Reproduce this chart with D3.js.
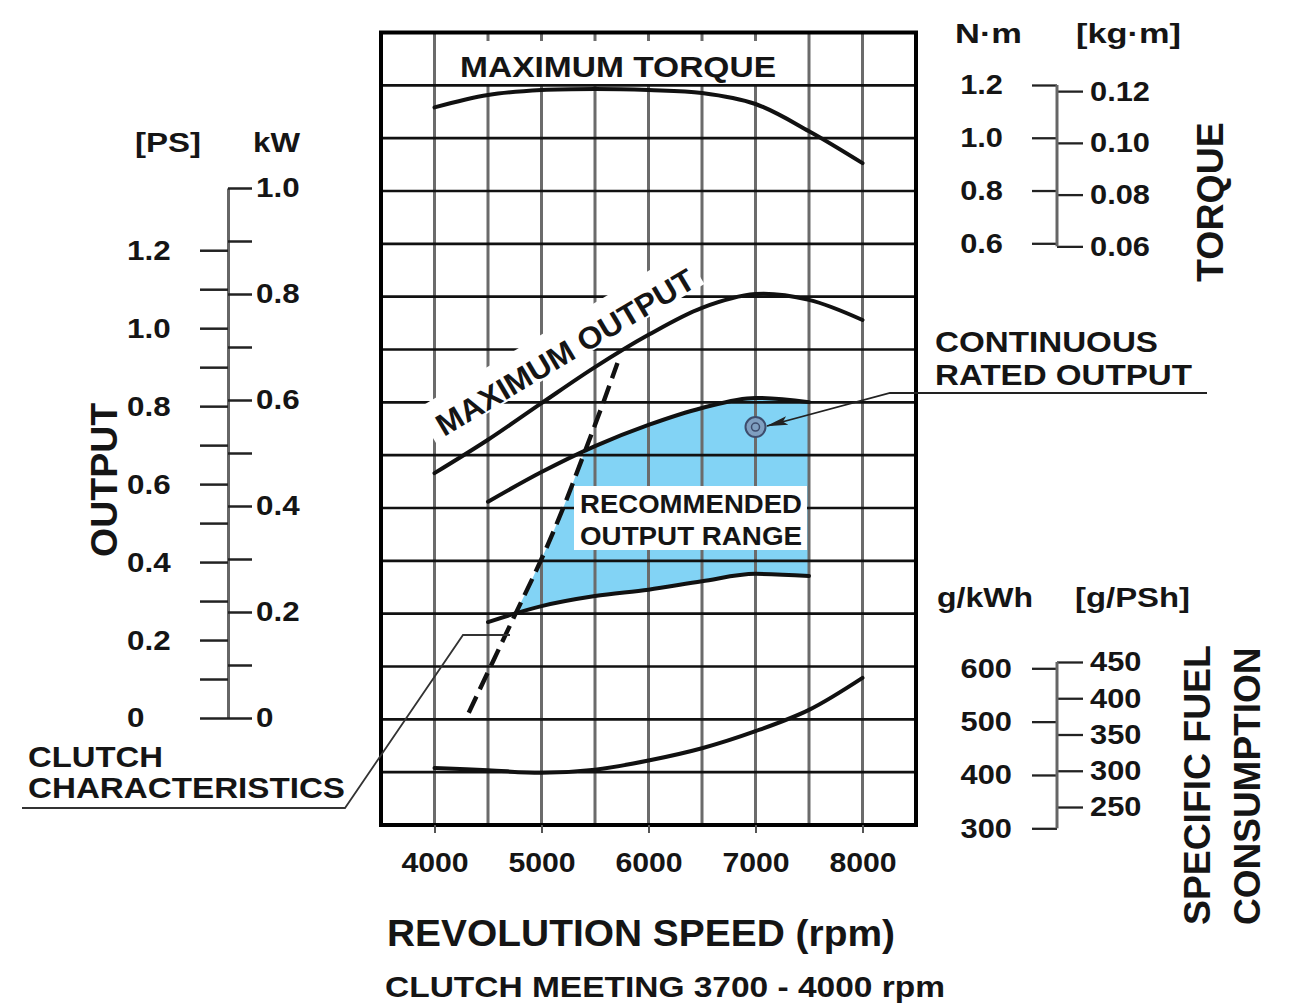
<!DOCTYPE html>
<html>
<head>
<meta charset="utf-8">
<script src="https://cdn.jsdelivr.net/npm/d3@7"></script>
<style>
  html, body { margin: 0; padding: 0; background: #fff; }
  text { font-family: "Liberation Sans", Arial, sans-serif; fill: #151515; }
</style>
</head>
<body>
<svg id="chart" width="1291" height="1004"></svg>
<script>
// ---- data ----
const rpm          = [4000, 4500, 5000, 5500, 6000, 6500, 7000, 7500, 8000];
const torqueNm     = [1.115, 1.162, 1.181, 1.185, 1.181, 1.170, 1.128, 1.025, 0.904];
const maxOutputKW  = [0.462, 0.525, 0.594, 0.662, 0.723, 0.774, 0.800, 0.789, 0.751];
const fuelGkWh     = [413, 409, 404, 410, 427, 450, 482, 522, 582];

const rangeRpm     = [4500, 5000, 5500, 6000, 6500, 7000, 7500];
const rangeUpperKW = [0.408, 0.464, 0.513, 0.553, 0.585, 0.604, 0.596];
const rangeLowerKW = [0.181, 0.211, 0.230, 0.242, 0.258, 0.272, 0.268];

const clutchRpm    = [4320, 4730, 5000, 5200, 5400, 5550, 5710];
const clutchKW     = [0.010, 0.185, 0.300, 0.395, 0.500, 0.580, 0.670];

const ratedRpm = [7000];
const ratedKW  = [0.549];

const rpmTicks   = [4000, 5000, 6000, 7000, 8000];
const kwTicks    = [0, 0.1, 0.2, 0.3, 0.4, 0.5, 0.6, 0.7, 0.8, 0.9, 1.0];
const psTicks    = [0, 0.1, 0.2, 0.3, 0.4, 0.5, 0.6, 0.7, 0.8, 0.9, 1.0, 1.1, 1.2];
const nmTicks    = [0.6, 0.8, 1.0, 1.2];
const kgmTicks   = [0.06, 0.08, 0.10, 0.12];
const gkwhTicks  = [300, 400, 500, 600];
const gpshTicks  = [250, 300, 350, 400, 450];

const PS_PER_KW = 1.35962;
const NM_PER_KGM = 9.80665;

const svg = d3.select("#chart");
svg.append("rect").attr("width", 1291).attr("height", 1004).attr("fill", "#fff");

// scales
const x = d3.scaleLinear([3500, 8500], [381, 916]);
const yGrid = d3.scaleLinear([-0.2, 1.3], [825, 32.5]);
const yOut = d3.scaleLinear([0, 1], [718, 188]);
const yPS = yOut.copy().domain(yOut.domain().map(d => d * PS_PER_KW));
const yNm = d3.scaleLinear([0.6, 1.2], [243.3, 85]);
const yKgm = yNm.copy().domain(yNm.domain().map(d => d / NM_PER_KGM));
const yFuel = d3.scaleLinear([300, 600], [828.3, 668.3]);
const yPSh = yFuel.copy().domain(yFuel.domain().map(d => d / PS_PER_KW));

// text helper
function txt(g, s, px, py, size, opt = {}) {
  const t = g.append("text")
    .attr("x", px).attr("y", py)
    .attr("font-size", size)
    .attr("font-weight", opt.weight || "bold")
    .attr("text-anchor", opt.anchor || "start")
    .text(s);
  if (opt.width) t.attr("textLength", opt.width).attr("lengthAdjust", "spacingAndGlyphs");
  if (opt.rotate) t.attr("transform", `rotate(${opt.rotate},${px},${py})`);
  return t;
}
function stretch(sel, k) {
  sel.each(function () {
    const w = this.getComputedTextLength();
    d3.select(this).attr("textLength", w * k).attr("lengthAdjust", "spacingAndGlyphs");
  });
}

// ---- recommended range fill, clipped at the clutch line ----
const clutchPts = clutchRpm.map((r, i) => [x(r), yOut(clutchKW[i])]);
const clutchLine = d3.line().curve(d3.curveCatmullRom);
const clipD = clutchLine(clutchPts) +
  `L${x(8500)},${yOut(clutchKW[clutchKW.length - 1])}L${x(8500)},${yOut(clutchKW[0])}Z`;
svg.append("clipPath").attr("id", "rightOfClutch").append("path").attr("d", clipD);

const rangeData = rangeRpm.map((r, i) => ({ r, hi: rangeUpperKW[i], lo: rangeLowerKW[i] }));
svg.append("path")
  .datum(rangeData)
  .attr("clip-path", "url(#rightOfClutch)")
  .attr("fill", "#82d3f5")
  .attr("d", d3.area().x(d => x(d.r)).y0(d => yOut(d.lo)).y1(d => yOut(d.hi)).curve(d3.curveMonotoneX));

// ---- grid ----
const grid = svg.append("g");
grid.selectAll(".vg").data(d3.range(4000, 8001, 500)).join("line")
  .attr("x1", d => x(d)).attr("x2", d => x(d))
  .attr("y1", yGrid(1.3)).attr("y2", yGrid(-0.2))
  .attr("stroke", "#6b6b6b").attr("stroke-width", 3);
grid.selectAll(".hg").data(d3.range(-1, 13).map(d => d / 10)).join("line")
  .attr("x1", x(3500)).attr("x2", x(8500))
  .attr("y1", d => yGrid(d)).attr("y2", d => yGrid(d))
  .attr("stroke", "#111").attr("stroke-width", 2.6);

// white label backgrounds inside the plot
svg.append("rect").attr("x", 452).attr("y", 41).attr("width", 330).attr("height", 43).attr("fill", "#fff");
svg.append("rect").attr("x", 574).attr("y", 486).attr("width", 233).attr("height", 64).attr("fill", "#fff");
const moLabel = svg.append("g").attr("transform", "translate(444,437) rotate(-30.8)");
moLabel.append("rect").attr("x", -10).attr("y", -38).attr("width", 312).attr("height", 40).attr("fill", "#fff");

// ---- curves ----
const curve = (xs, ys, ys2) => d3.line().x((d, i) => x(xs[i])).y(d => ys2(d)).curve(d3.curveCatmullRom);
const lineStyle = p => p.attr("fill", "none").attr("stroke", "#111").attr("stroke-width", 4).attr("stroke-linecap", "round");

svg.append("path").datum(torqueNm).attr("d", curve(rpm, torqueNm, yNm)).call(lineStyle);
svg.append("path").datum(maxOutputKW).attr("d", curve(rpm, maxOutputKW, yOut)).call(lineStyle);
svg.append("path").datum(fuelGkWh).attr("d", curve(rpm, fuelGkWh, yFuel)).call(lineStyle);
svg.append("path").datum(rangeUpperKW).attr("d", d3.line().x((d, i) => x(rangeRpm[i])).y(d => yOut(d)).curve(d3.curveMonotoneX)).call(lineStyle);
svg.append("path").datum(rangeLowerKW).attr("d", d3.line().x((d, i) => x(rangeRpm[i])).y(d => yOut(d)).curve(d3.curveMonotoneX)).call(lineStyle);
svg.append("path").attr("d", clutchLine(clutchPts))
  .attr("fill", "none").attr("stroke", "#111").attr("stroke-width", 4.4).attr("stroke-dasharray", "18 8");

// rated point
svg.selectAll(".rated").data(ratedRpm).join("circle")
  .attr("cx", d => x(d)).attr("cy", (d, i) => yOut(ratedKW[i])).attr("r", 10)
  .attr("fill", "#7f9fc0").attr("stroke", "#3d4d6d").attr("stroke-width", 2);
svg.selectAll(".rated2").data(ratedRpm).join("circle")
  .attr("cx", d => x(d)).attr("cy", (d, i) => yOut(ratedKW[i])).attr("r", 4)
  .attr("fill", "none").attr("stroke", "#3d4d6d").attr("stroke-width", 1.5);

// frame
svg.append("rect").attr("x", x(3500)).attr("y", yGrid(1.3))
  .attr("width", x(8500) - x(3500)).attr("height", yGrid(-0.2) - yGrid(1.3))
  .attr("fill", "none").attr("stroke", "#000").attr("stroke-width", 4);

// ---- leaders ----
const defs = svg.append("defs");
defs.append("marker").attr("id", "arrow").attr("viewBox", "0 0 20 10").attr("refX", 19).attr("refY", 5)
  .attr("markerWidth", 22).attr("markerHeight", 11).attr("markerUnits", "userSpaceOnUse").attr("orient", "auto")
  .append("path").attr("d", "M0,1 L20,5 L0,9 L4,5 Z").attr("fill", "#222");
svg.append("polyline").attr("points", "1207,393 890,393 767,426")
  .attr("fill", "none").attr("stroke", "#222").attr("stroke-width", 1.8).attr("marker-end", "url(#arrow)");
svg.append("polyline").attr("points", "22,808 345,808 463,635 510,635")
  .attr("fill", "none").attr("stroke", "#333").attr("stroke-width", 1.8);

// ---- output axis (left) ----
const axFont = 28, axStretch = 1.12;
const kwAxis = svg.append("g").attr("transform", "translate(228,0)")
  .call(d3.axisRight(yOut).tickValues(kwTicks).tickSize(24).tickSizeOuter(0).tickPadding(4)
    .tickFormat(d => (Math.round(d * 10) % 2 === 0 ? (d === 0 ? "0" : d3.format(".1f")(d)) : "")));
const psAxis = svg.append("g").attr("transform", "translate(228,0)")
  .call(d3.axisLeft(yPS).tickValues(psTicks).tickSize(28).tickSizeOuter(0)
    .tickFormat(d => (Math.round(d * 10) % 2 === 0 ? (d === 0 ? "0" : d3.format(".1f")(d)) : "")));
psAxis.select(".domain").remove();
psAxis.selectAll("text").attr("text-anchor", "start").attr("x", 127 - 228);
[kwAxis, psAxis].forEach(a => {
  a.select(".domain").attr("stroke", "#666").attr("stroke-width", 3);
  a.selectAll(".tick line").attr("stroke", "#222").attr("stroke-width", 2.5);
  a.selectAll("text").attr("font-size", axFont).attr("font-weight", "bold").attr("fill", "#151515")
    .attr("font-family", "Liberation Sans, Arial, sans-serif").call(stretch, axStretch);
});

// ---- torque axis ----
const nmAxis = svg.append("g").attr("transform", "translate(1057,0)")
  .call(d3.axisLeft(yNm).tickValues(nmTicks).tickSize(25).tickPadding(29).tickFormat(d3.format(".1f")));
const kgAxis = svg.append("g").attr("transform", "translate(1057,0)")
  .call(d3.axisRight(yKgm).tickValues(kgmTicks).tickSize(26).tickPadding(7).tickFormat(d3.format(".2f")));
// ---- fuel axis ----
const gkAxis = svg.append("g").attr("transform", "translate(1057,0)")
  .call(d3.axisLeft(yFuel).tickValues(gkwhTicks).tickSize(25).tickPadding(20).tickFormat(d3.format("d")));
const gpAxis = svg.append("g").attr("transform", "translate(1057,0)")
  .call(d3.axisRight(yPSh).tickValues(gpshTicks).tickSize(26).tickPadding(7).tickFormat(d3.format("d")));
[nmAxis, kgAxis, gkAxis, gpAxis].forEach(a => {
  a.select(".domain").remove();
  a.selectAll(".tick line").attr("stroke", "#222").attr("stroke-width", 2.3);
  a.selectAll("text").attr("font-size", axFont).attr("font-weight", "bold").attr("fill", "#151515")
    .attr("font-family", "Liberation Sans, Arial, sans-serif").call(stretch, 1.1);
});
svg.append("line").attr("x1", 1057).attr("x2", 1057).attr("y1", yNm(1.2)).attr("y2", yKgm(0.06))
  .attr("stroke", "#666").attr("stroke-width", 3);
svg.append("line").attr("x1", 1057).attr("x2", 1057).attr("y1", yPSh(450)).attr("y2", yFuel(300))
  .attr("stroke", "#666").attr("stroke-width", 3);

// ---- rpm axis ----
const xAxis = svg.append("g").attr("transform", `translate(0,${yGrid(-0.2)})`)
  .call(d3.axisBottom(x).tickValues(rpmTicks).tickSize(8).tickSizeOuter(0).tickPadding(19).tickFormat(d3.format("d")));
xAxis.select(".domain").remove();
xAxis.selectAll(".tick line").attr("stroke", "#555").attr("stroke-width", 2);
xAxis.selectAll("text").attr("font-size", axFont).attr("font-weight", "bold").attr("fill", "#151515")
  .attr("font-family", "Liberation Sans, Arial, sans-serif").call(stretch, 1.08);

// ---- labels ----
txt(svg, "MAXIMUM TORQUE", 460, 77, 30, { width: 316 });
txt(moLabel, "MAXIMUM OUTPUT", 0, 0, 31, { width: 295 });
txt(svg, "RECOMMENDED", 580, 513, 26, { width: 222 });
txt(svg, "OUTPUT RANGE", 580, 545, 26, { width: 222 });
txt(svg, "CONTINUOUS", 935, 352, 30, { width: 223 });
txt(svg, "RATED OUTPUT", 935, 385, 30, { width: 257 });
txt(svg, "CLUTCH", 28, 767, 30, { width: 135 });
txt(svg, "CHARACTERISTICS", 28, 798, 30, { width: 317 });

txt(svg, "[PS]", 135, 152, 27, { width: 66 });
txt(svg, "kW", 253, 152, 27, { width: 47 });
txt(svg, "OUTPUT", 117, 557, 37.5, { rotate: -90 });

txt(svg, "N·m", 955, 43, 27, { width: 67 });
txt(svg, "[kg·m]", 1076, 43, 27, { width: 105 });
txt(svg, "TORQUE", 1223, 282, 37.5, { rotate: -90 });

txt(svg, "g/kWh", 937, 607, 27, { width: 96 });
txt(svg, "[g/PSh]", 1075, 607, 27, { width: 115 });
txt(svg, "SPECIFIC FUEL", 1210, 925, 37.3, { rotate: -90 });
txt(svg, "CONSUMPTION", 1260, 925, 37, { rotate: -90 });

txt(svg, "REVOLUTION SPEED (rpm)", 387, 946, 37.5, { width: 508 });
txt(svg, "CLUTCH MEETING 3700 - 4000 rpm", 385, 997, 30, { width: 560 });
</script>
</body>
</html>
